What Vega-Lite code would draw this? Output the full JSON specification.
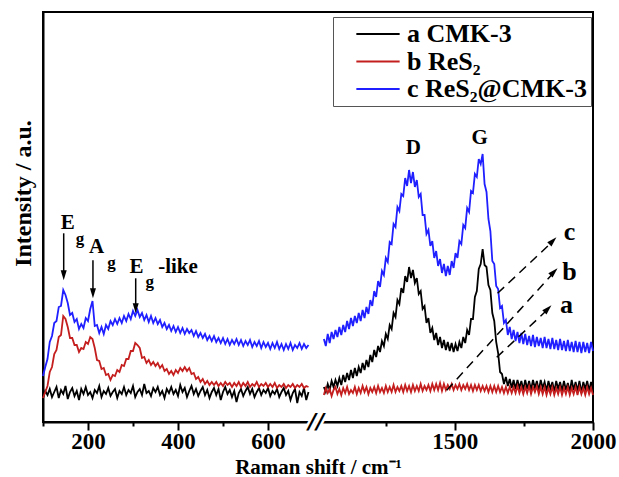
{
  "$schema": "https://vega.github.io/schema/vega-lite/v6.json",
  "width": 550,
  "height": 410,
  "autosize": {"type": "none"},
  "padding": {"left": 43, "top": 12, "right": 26, "bottom": 55},
  "config": {
    "font": "Liberation Serif",
    "view": {"stroke": "black", "strokeWidth": 2}
  },
  "datasets": {
    "spec": [
{"x":100,"p":1,"a":24,"b":24,"c":46},{"x":105,"p":1,"a":31,"b":30,"c":55},{"x":110,"p":1,"a":27,"b":36,"c":63},{"x":115,"p":1,"a":33,"b":50,"c":80},{"x":120,"p":1,"a":25,"b":55,"c":86},{"x":125,"p":1,"a":30,"b":68,"c":99},{"x":130,"p":1,"a":35,"b":72,"c":101},{"x":135,"p":1,"a":24,"b":85,"c":115},{"x":140,"p":1,"a":32,"b":87,"c":116},{"x":145,"p":1,"a":28,"b":106,"c":132},{"x":150,"p":1,"a":36,"b":103,"c":127},{"x":155,"p":1,"a":23,"b":95,"c":119},{"x":160,"p":1,"a":30,"b":84,"c":107},{"x":165,"p":1,"a":34,"b":84,"c":109},{"x":170,"p":1,"a":26,"b":77,"c":100},{"x":175,"p":1,"a":31,"b":77,"c":103},{"x":180,"p":1,"a":22,"b":70,"c":93},{"x":185,"p":1,"a":33,"b":74,"c":98},{"x":190,"p":1,"a":28,"b":73,"c":94},{"x":195,"p":1,"a":35,"b":80,"c":104},{"x":200,"p":1,"a":27,"b":78,"c":101},{"x":205,"p":1,"a":30,"b":85,"c":113},{"x":210,"p":1,"a":24,"b":83,"c":121},{"x":215,"p":1,"a":32,"b":74,"c":96},{"x":220,"p":1,"a":29,"b":62,"c":97},{"x":225,"p":1,"a":36,"b":61,"c":89},{"x":230,"p":1,"a":25,"b":53,"c":95},{"x":235,"p":1,"a":31,"b":54,"c":88},{"x":240,"p":1,"a":28,"b":47,"c":97},{"x":245,"p":1,"a":34,"b":48,"c":93},{"x":250,"p":1,"a":26,"b":42,"c":101},{"x":255,"p":1,"a":30,"b":47,"c":97},{"x":260,"p":1,"a":33,"b":46,"c":103},{"x":265,"p":1,"a":24,"b":52,"c":98},{"x":270,"p":1,"a":31,"b":50,"c":104},{"x":275,"p":1,"a":28,"b":57,"c":99},{"x":280,"p":1,"a":35,"b":56,"c":106},{"x":285,"p":1,"a":27,"b":63,"c":101},{"x":290,"p":1,"a":32,"b":63,"c":108},{"x":295,"p":1,"a":29,"b":71,"c":103},{"x":300,"p":1,"a":36,"b":71,"c":111},{"x":305,"p":1,"a":25,"b":79,"c":106},{"x":310,"p":1,"a":30,"b":77,"c":112},{"x":315,"p":1,"a":33,"b":74,"c":105},{"x":320,"p":1,"a":27,"b":64,"c":109},{"x":325,"p":1,"a":38,"b":65,"c":102},{"x":330,"p":1,"a":29,"b":59,"c":107},{"x":335,"p":1,"a":31,"b":62,"c":100},{"x":340,"p":1,"a":26,"b":57,"c":106},{"x":345,"p":1,"a":34,"b":60,"c":99},{"x":350,"p":1,"a":30,"b":56,"c":104},{"x":355,"p":1,"a":35,"b":59,"c":98},{"x":360,"p":1,"a":27,"b":54,"c":102},{"x":365,"p":1,"a":31,"b":57,"c":95},{"x":370,"p":1,"a":24,"b":51,"c":99},{"x":375,"p":1,"a":33,"b":53,"c":93},{"x":380,"p":1,"a":29,"b":48,"c":97},{"x":385,"p":1,"a":35,"b":51,"c":91},{"x":390,"p":1,"a":28,"b":47,"c":96},{"x":395,"p":1,"a":32,"b":52,"c":90},{"x":400,"p":1,"a":26,"b":49,"c":95},{"x":405,"p":1,"a":37,"b":54,"c":89},{"x":410,"p":1,"a":30,"b":51,"c":94},{"x":415,"p":1,"a":34,"b":55,"c":88},{"x":420,"p":1,"a":25,"b":51,"c":93},{"x":425,"p":1,"a":31,"b":54,"c":89},{"x":430,"p":1,"a":36,"b":48,"c":92},{"x":435,"p":1,"a":28,"b":49,"c":86},{"x":440,"p":1,"a":33,"b":43,"c":91},{"x":445,"p":1,"a":26,"b":45,"c":85},{"x":450,"p":1,"a":31,"b":40,"c":89},{"x":455,"p":1,"a":35,"b":43,"c":84},{"x":460,"p":1,"a":27,"b":38,"c":88},{"x":465,"p":1,"a":32,"b":41,"c":82},{"x":470,"p":1,"a":24,"b":37,"c":86},{"x":475,"p":1,"a":30,"b":40,"c":81},{"x":480,"p":1,"a":34,"b":37,"c":86},{"x":485,"p":1,"a":27,"b":40,"c":80},{"x":490,"p":1,"a":33,"b":36,"c":84},{"x":495,"p":1,"a":22,"b":39,"c":79},{"x":500,"p":1,"a":30,"b":36,"c":84},{"x":505,"p":1,"a":35,"b":40,"c":78},{"x":510,"p":1,"a":28,"b":37,"c":83},{"x":515,"p":1,"a":32,"b":39,"c":77},{"x":520,"p":1,"a":25,"b":35,"c":82},{"x":525,"p":1,"a":31,"b":39,"c":78},{"x":530,"p":1,"a":20,"b":36,"c":83},{"x":535,"p":1,"a":29,"b":40,"c":77},{"x":540,"p":1,"a":33,"b":35,"c":82},{"x":545,"p":1,"a":26,"b":39,"c":76},{"x":550,"p":1,"a":31,"b":36,"c":81},{"x":555,"p":1,"a":35,"b":40,"c":77},{"x":560,"p":1,"a":28,"b":35,"c":82},{"x":565,"p":1,"a":33,"b":38,"c":75},{"x":570,"p":1,"a":25,"b":36,"c":80},{"x":575,"p":1,"a":30,"b":40,"c":76},{"x":580,"p":1,"a":34,"b":35,"c":81},{"x":585,"p":1,"a":27,"b":38,"c":74},{"x":590,"p":1,"a":32,"b":36,"c":80},{"x":595,"p":1,"a":29,"b":39,"c":75},{"x":600,"p":1,"a":34,"b":35,"c":79},{"x":605,"p":1,"a":26,"b":38,"c":73},{"x":610,"p":1,"a":31,"b":35,"c":79},{"x":615,"p":1,"a":28,"b":39,"c":74},{"x":620,"p":1,"a":33,"b":34,"c":80},{"x":625,"p":1,"a":25,"b":37,"c":73},{"x":630,"p":1,"a":30,"b":35,"c":78},{"x":635,"p":1,"a":34,"b":38,"c":72},{"x":640,"p":1,"a":27,"b":34,"c":78},{"x":645,"p":1,"a":31,"b":37,"c":73},{"x":650,"p":1,"a":22,"b":35,"c":79},{"x":655,"p":1,"a":29,"b":38,"c":72},{"x":660,"p":1,"a":33,"b":34,"c":77},{"x":665,"p":1,"a":19,"b":37,"c":74},{"x":670,"p":1,"a":30,"b":35,"c":79},{"x":675,"p":1,"a":26,"b":38,"c":73},{"x":680,"p":1,"a":34,"b":34,"c":78},{"x":685,"p":1,"a":22,"b":36,"c":74},{"x":690,"p":1,"a":30,"b":35,"c":77},
{"x":1027,"p":2,"a":35,"b":27,"c":83},{"x":1034,"p":2,"a":30,"b":34,"c":76},{"x":1041,"p":2,"a":38,"b":29,"c":88},{"x":1048,"p":2,"a":32,"b":33,"c":79},{"x":1055,"p":2,"a":41,"b":26,"c":90},{"x":1062,"p":2,"a":35,"b":32,"c":83},{"x":1069,"p":2,"a":42,"b":35,"c":92},{"x":1076,"p":2,"a":36,"b":28,"c":85},{"x":1083,"p":2,"a":44,"b":33,"c":95},{"x":1090,"p":2,"a":37,"b":27,"c":87},{"x":1097,"p":2,"a":47,"b":34,"c":97},{"x":1104,"p":2,"a":40,"b":29,"c":90},{"x":1111,"p":2,"a":49,"b":35,"c":101},{"x":1118,"p":2,"a":42,"b":28,"c":93},{"x":1125,"p":2,"a":52,"b":32,"c":104},{"x":1132,"p":2,"a":44,"b":29,"c":96},{"x":1139,"p":2,"a":54,"b":35,"c":106},{"x":1146,"p":2,"a":46,"b":28,"c":99},{"x":1153,"p":2,"a":55,"b":34,"c":109},{"x":1160,"p":2,"a":49,"b":29,"c":101},{"x":1167,"p":2,"a":59,"b":36,"c":112},{"x":1174,"p":2,"a":52,"b":30,"c":104},{"x":1181,"p":2,"a":62,"b":35,"c":115},{"x":1188,"p":2,"a":55,"b":28,"c":108},{"x":1195,"p":2,"a":67,"b":34,"c":122},{"x":1202,"p":2,"a":60,"b":30,"c":116},{"x":1209,"p":2,"a":72,"b":35,"c":131},{"x":1216,"p":2,"a":65,"b":29,"c":125},{"x":1223,"p":2,"a":76,"b":36,"c":141},{"x":1230,"p":2,"a":70,"b":30,"c":135},{"x":1237,"p":2,"a":81,"b":34,"c":151},{"x":1244,"p":2,"a":76,"b":29,"c":147},{"x":1251,"p":2,"a":88,"b":36,"c":164},{"x":1258,"p":2,"a":83,"b":30,"c":160},{"x":1265,"p":2,"a":97,"b":35,"c":180},{"x":1272,"p":2,"a":93,"b":30,"c":178},{"x":1279,"p":2,"a":109,"b":37,"c":198},{"x":1286,"p":2,"a":105,"b":30,"c":195},{"x":1293,"p":2,"a":122,"b":35,"c":215},{"x":1300,"p":2,"a":118,"b":31,"c":211},{"x":1307,"p":2,"a":134,"b":36,"c":228},{"x":1314,"p":2,"a":129,"b":30,"c":226},{"x":1321,"p":2,"a":146,"b":37,"c":244},{"x":1328,"p":2,"a":140,"b":31,"c":236},{"x":1335,"p":2,"a":155,"b":36,"c":252},{"x":1342,"p":2,"a":144,"b":30,"c":239},{"x":1349,"p":2,"a":152,"b":37,"c":250},{"x":1356,"p":2,"a":139,"b":31,"c":235},{"x":1363,"p":2,"a":144,"b":36,"c":242},{"x":1370,"p":2,"a":128,"b":31,"c":225},{"x":1377,"p":2,"a":131,"b":38,"c":228},{"x":1384,"p":2,"a":113,"b":31,"c":207},{"x":1391,"p":2,"a":116,"b":36,"c":207},{"x":1398,"p":2,"a":99,"b":32,"c":188},{"x":1405,"p":2,"a":104,"b":37,"c":192},{"x":1412,"p":2,"a":89,"b":31,"c":176},{"x":1419,"p":2,"a":94,"b":38,"c":181},{"x":1426,"p":2,"a":82,"b":32,"c":164},{"x":1433,"p":2,"a":89,"b":38,"c":171},{"x":1440,"p":2,"a":77,"b":32,"c":156},{"x":1447,"p":2,"a":85,"b":39,"c":163},{"x":1454,"p":2,"a":74,"b":31,"c":149},{"x":1461,"p":2,"a":82,"b":38,"c":158},{"x":1468,"p":2,"a":72,"b":32,"c":146},{"x":1475,"p":2,"a":80,"b":37,"c":156},{"x":1482,"p":2,"a":71,"b":33,"c":147},{"x":1489,"p":2,"a":79,"b":38,"c":161},{"x":1496,"p":2,"a":70,"b":32,"c":154},{"x":1503,"p":2,"a":78,"b":37,"c":169},{"x":1510,"p":2,"a":71,"b":33,"c":164},{"x":1517,"p":2,"a":80,"b":38,"c":181},{"x":1524,"p":2,"a":74,"b":32,"c":178},{"x":1531,"p":2,"a":85,"b":37,"c":197},{"x":1538,"p":2,"a":79,"b":33,"c":194},{"x":1545,"p":2,"a":92,"b":38,"c":214},{"x":1552,"p":2,"a":87,"b":32,"c":210},{"x":1559,"p":2,"a":103,"b":37,"c":231},{"x":1566,"p":2,"a":103,"b":31,"c":229},{"x":1573,"p":2,"a":125,"b":37,"c":248},{"x":1580,"p":2,"a":131,"b":32,"c":245},{"x":1587,"p":2,"a":153,"b":37,"c":263},{"x":1594,"p":2,"a":158,"b":31,"c":258},{"x":1601,"p":2,"a":173,"b":36,"c":268},{"x":1608,"p":2,"a":157,"b":31,"c":238},{"x":1615,"p":2,"a":155,"b":36,"c":230},{"x":1622,"p":2,"a":137,"b":30,"c":203},{"x":1629,"p":2,"a":132,"b":36,"c":191},{"x":1636,"p":2,"a":109,"b":30,"c":161},{"x":1643,"p":2,"a":101,"b":36,"c":158},{"x":1650,"p":2,"a":80,"b":30,"c":136},{"x":1657,"p":2,"a":69,"b":36,"c":133},{"x":1664,"p":2,"a":50,"b":30,"c":114},{"x":1671,"p":2,"a":48,"b":35,"c":116},{"x":1678,"p":2,"a":38,"b":29,"c":99},{"x":1685,"p":2,"a":45,"b":35,"c":102},{"x":1692,"p":2,"a":36,"b":29,"c":87},{"x":1699,"p":2,"a":43,"b":35,"c":95},{"x":1706,"p":2,"a":34,"b":29,"c":83},{"x":1713,"p":2,"a":42,"b":35,"c":92},{"x":1720,"p":2,"a":33,"b":29,"c":81},{"x":1727,"p":2,"a":42,"b":36,"c":90},{"x":1734,"p":2,"a":34,"b":29,"c":79},{"x":1741,"p":2,"a":41,"b":35,"c":89},{"x":1748,"p":2,"a":32,"b":28,"c":78},{"x":1755,"p":2,"a":42,"b":35,"c":88},{"x":1762,"p":2,"a":33,"b":29,"c":77},{"x":1769,"p":2,"a":41,"b":36,"c":86},{"x":1776,"p":2,"a":32,"b":28,"c":76},{"x":1783,"p":2,"a":42,"b":35,"c":87},{"x":1790,"p":2,"a":34,"b":30,"c":75},{"x":1797,"p":2,"a":41,"b":36,"c":85},{"x":1804,"p":2,"a":31,"b":28,"c":76},{"x":1811,"p":2,"a":42,"b":35,"c":84},{"x":1818,"p":2,"a":34,"b":28,"c":74},{"x":1825,"p":2,"a":40,"b":35,"c":85},{"x":1832,"p":2,"a":31,"b":27,"c":74},{"x":1839,"p":2,"a":41,"b":34,"c":83},{"x":1846,"p":2,"a":33,"b":28,"c":73},{"x":1853,"p":2,"a":40,"b":35,"c":84},{"x":1860,"p":2,"a":30,"b":27,"c":73},{"x":1867,"p":2,"a":41,"b":34,"c":82},{"x":1874,"p":2,"a":33,"b":28,"c":72},{"x":1881,"p":2,"a":40,"b":35,"c":83},{"x":1888,"p":2,"a":31,"b":27,"c":72},{"x":1895,"p":2,"a":41,"b":34,"c":81},{"x":1902,"p":2,"a":32,"b":28,"c":71},{"x":1909,"p":2,"a":39,"b":35,"c":82},{"x":1916,"p":2,"a":30,"b":27,"c":71},{"x":1923,"p":2,"a":42,"b":34,"c":80},{"x":1930,"p":2,"a":32,"b":28,"c":70},{"x":1937,"p":2,"a":40,"b":35,"c":81},{"x":1944,"p":2,"a":31,"b":27,"c":70},{"x":1951,"p":2,"a":41,"b":35,"c":80},{"x":1958,"p":2,"a":29,"b":28,"c":69},{"x":1965,"p":2,"a":40,"b":34,"c":80},{"x":1972,"p":2,"a":33,"b":27,"c":70},{"x":1979,"p":2,"a":41,"b":35,"c":79},{"x":1986,"p":2,"a":31,"b":28,"c":69},{"x":1993,"p":2,"a":40,"b":34,"c":80},{"x":2000,"p":2,"a":32,"b":27,"c":71}
    ]
  },
  "encoding": {
    "x": {
      "field": "x", "type": "quantitative",
      "scale": {"domain": [100, 700, 1000, 2000], "range": [0, 270, 273.4, 550], "nice": false, "zero": false},
      "axis": {
        "values": [100, 200, 300, 400, 500, 600, 1250, 1500, 1750, 2000],
        "format": "d",
        "labelExpr": "indexof([200,400,600,1500,2000], datum.value) >= 0 ? datum.label : ''",
        "title": "Raman shift / cm⁻¹",
        "grid": false,
        "domainColor": "black", "domainWidth": 2,
        "tickColor": "black", "tickWidth": 2,
        "tickSize": {"condition": {"test": "indexof([200,400,600,1500,2000], datum.value) >= 0", "value": 8}, "value": 4},
        "labelFont": "Liberation Serif", "labelFontWeight": "bold", "labelFontSize": 23, "labelColor": "black",
        "labelPadding": 0, "labelFlush": false, "labelOverlap": false,
        "titleFont": "Liberation Serif", "titleFontWeight": "bold", "titleFontSize": 21, "titleColor": "black",
        "titleY": 51, "titleBaseline": "alphabetic"
      }
    },
    "y": {
      "field": "y", "type": "quantitative",
      "scale": {"domain": [0, 410], "nice": false, "zero": false},
      "axis": {
        "title": "Intensity / a.u.", "ticks": false, "labels": false, "grid": false,
        "domainColor": "black", "domainWidth": 2,
        "titleFont": "Liberation Serif", "titleFontWeight": "bold", "titleFontSize": 24, "titleColor": "black",
        "titleX": -20, "titleY": 181, "titleBaseline": "middle", "titleAngle": 270
      }
    }
  },
  "layer": [
    {
      "data": {"name": "spec"},
      "transform": [{"fold": ["a", "b", "c"], "as": ["s", "y"]}],
      "mark": {"type": "line", "strokeWidth": 1.8, "interpolate": "linear"},
      "encoding": {
        "color": {
          "field": "s", "type": "nominal",
          "scale": {"domain": ["a", "b", "c"], "range": ["#000000", "#c41e1e", "#1f1fff"]},
          "legend": {
            "orient": "none", "legendX": 290, "legendY": 5, "title": null,
            "labelExpr": "datum.label == 'a' ? 'a CMK-3' : datum.label == 'b' ? 'b ReS₂' : 'c ReS₂@CMK-3'",
            "labelLimit": 400,
            "symbolType": "M-2.5,0L2.5,0", "symbolSize": 300, "symbolStrokeWidth": 2,
            "symbolOffset": 28,
            "labelFont": "Liberation Serif", "labelFontWeight": "bold", "labelFontSize": 26, "labelColor": "black",
            "labelOffset": 16, "strokeColor": "#555555", "padding": 4, "rowPadding": 1.5
          }
        },
        "detail": {"field": "p", "type": "nominal"}
      }
    },
    {
      "data": {"values": [
        {"x": 146, "y": 188.7, "y2": 150},
        {"x": 211, "y": 161.7, "y2": 132},
        {"x": 306, "y": 143.7, "y2": 117}
      ]},
      "mark": {"type": "rule", "color": "black", "strokeWidth": 1.5},
      "encoding": {"y2": {"field": "y2"}}
    },
    {
      "data": {"values": [
        {"x": 146, "y": 146.7},
        {"x": 211, "y": 128.7},
        {"x": 306, "y": 113.7}
      ]},
      "mark": {"type": "point", "shape": "M-0.6,-1L0.6,-1L0,1Z", "size": 100, "filled": true, "color": "black", "opacity": 1},
      "encoding": {}
    },
    {
      "data": {"values": [
        {"x": 1655, "y": 128.7, "x2": 1856, "y2": 181},
        {"x": 1471, "y": 31.7, "x2": 1860, "y2": 150},
        {"x": 1652, "y": 64.7, "x2": 1838, "y2": 113}
      ]},
      "mark": {"type": "rule", "color": "black", "strokeWidth": 1.5, "strokeDash": [9, 6]},
      "encoding": {"x2": {"field": "x2"}, "y2": {"field": "y2"}}
    },
    {
      "data": {"values": [
        {"x": 1855, "y": 181.2},
        {"x": 1859, "y": 150.2},
        {"x": 1837, "y": 113.2}
      ]},
      "mark": {"type": "point", "shape": "M-0.6,1L0.6,1L0,-1Z", "size": 100, "angle": 45, "filled": true, "color": "black", "opacity": 1},
      "encoding": {}
    },
    {
      "data": {"values": [
        {"x": 1350, "y": 273.7, "t": "D"},
        {"x": 1590, "y": 283.7, "t": "G"},
        {"x": 155, "y": 199, "t": "E"},
        {"x": 219, "y": 175, "t": "A"},
        {"x": 307.5, "y": 155, "t": "E"},
        {"x": 400, "y": 155, "t": "-like"}
      ]},
      "mark": {"type": "text", "font": "Liberation Serif", "fontWeight": "bold", "fontSize": 21, "color": "black", "baseline": "middle", "align": "center"},
      "encoding": {"text": {"field": "t"}}
    },
    {
      "data": {"values": [
        {"x": 182, "y": 183, "t": "g"},
        {"x": 252, "y": 159, "t": "g"},
        {"x": 337, "y": 140, "t": "g"}
      ]},
      "mark": {"type": "text", "font": "Liberation Serif", "fontWeight": "bold", "fontSize": 17, "color": "black", "baseline": "middle", "align": "center"},
      "encoding": {"text": {"field": "t"}}
    },
    {
      "data": {"values": [
        {"x": 1915, "y": 189.7, "t": "c"},
        {"x": 1915, "y": 149.7, "t": "b"},
        {"x": 1904, "y": 116.7, "t": "a"}
      ]},
      "mark": {"type": "text", "font": "Liberation Serif", "fontWeight": "bold", "fontSize": 26, "color": "black", "baseline": "middle", "align": "center"},
      "encoding": {"text": {"field": "t"}}
    },
    {
      "data": {"values": [{"x": 982, "y": 0, "t": "//"}]},
      "mark": {"type": "text", "font": "DejaVu Sans", "fontWeight": "bold", "fontStyle": "italic", "fontSize": 22, "color": "white", "stroke": "white", "strokeWidth": 5, "baseline": "middle", "align": "center"},
      "encoding": {"text": {"field": "t"}}
    },
    {
      "data": {"values": [{"x": 982, "y": 0, "t": "//"}]},
      "mark": {"type": "text", "font": "DejaVu Sans", "fontWeight": "bold", "fontStyle": "italic", "fontSize": 22, "color": "black", "baseline": "middle", "align": "center"},
      "encoding": {"text": {"field": "t"}}
    }
  ]
}
